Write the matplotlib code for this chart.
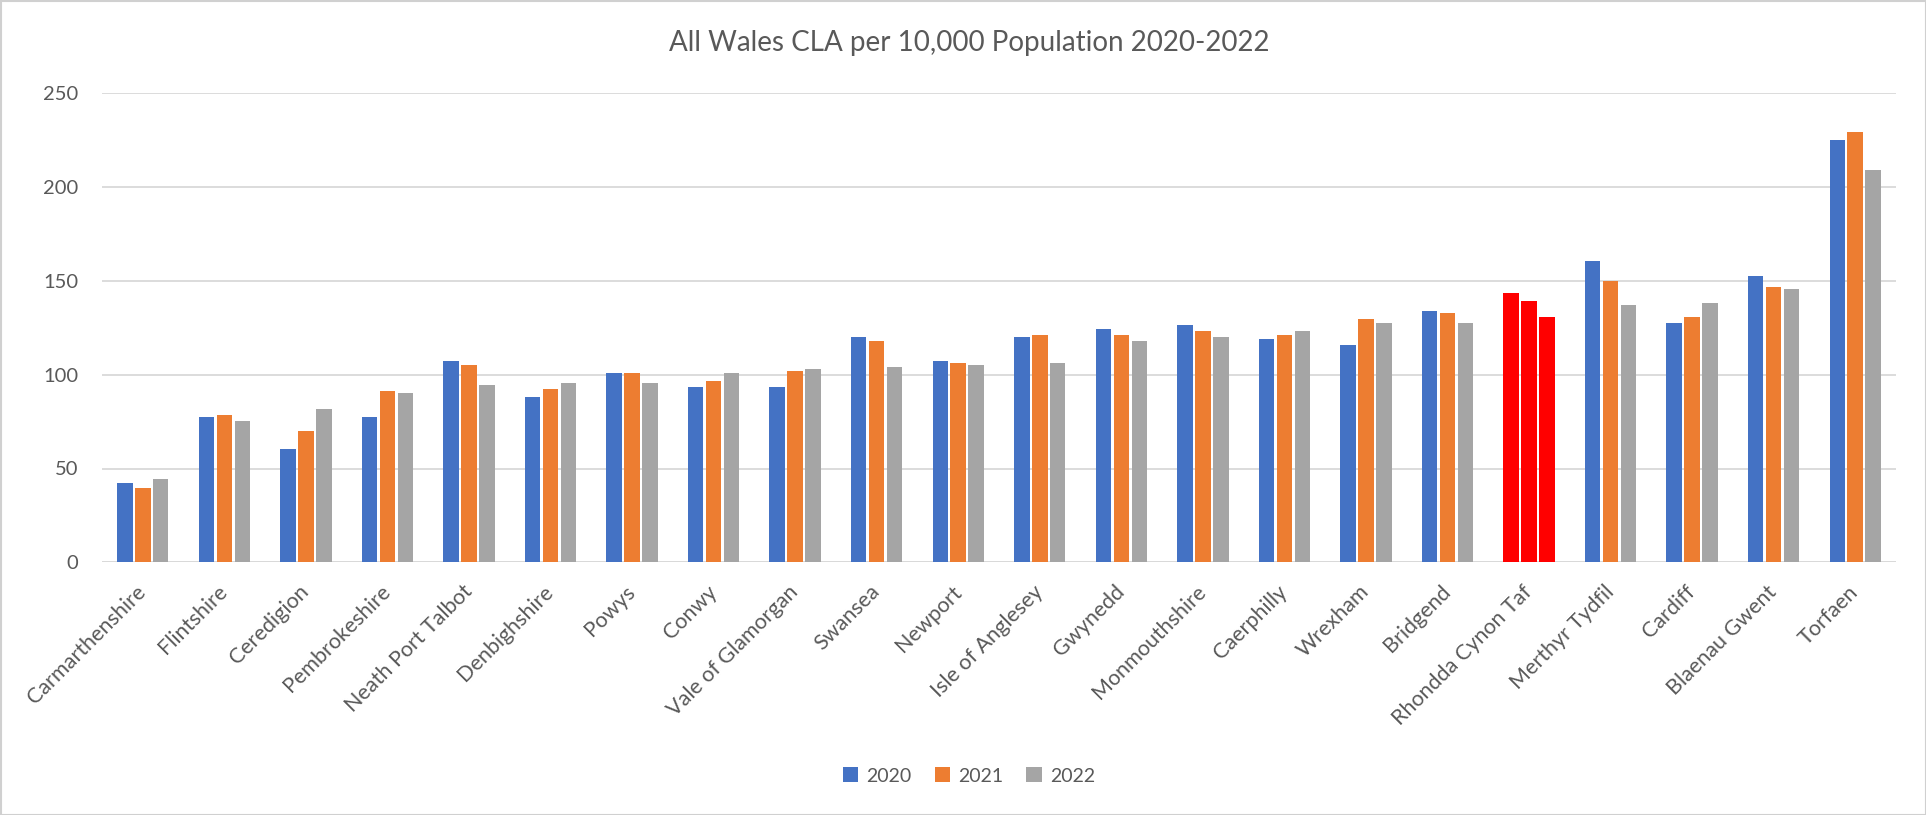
import matplotlib
matplotlib.use("Agg")
import matplotlib.pyplot as plt
import numpy as np
from matplotlib.patches import Patch, Rectangle

categories = ["Carmarthenshire", "Flintshire", "Ceredigion", "Pembrokeshire",
              "Neath Port Talbot", "Denbighshire", "Powys", "Conwy",
              "Vale of Glamorgan", "Swansea", "Newport", "Isle of Anglesey",
              "Gwynedd", "Monmouthshire", "Caerphilly", "Wrexham", "Bridgend",
              "Rhondda Cynon Taf", "Merthyr Tydfil", "Cardiff", "Blaenau Gwent",
              "Torfaen"]
v2020 = [42.5, 77.5, 60.6, 77.5, 107.1, 88.1, 100.7, 93.5, 93.5, 120.1, 107.3,
         120.1, 124.4, 126.5, 119.0, 115.8, 134.0, 143.6, 160.4, 127.6, 152.8, 225.1]
v2021 = [39.4, 78.5, 70.2, 91.3, 105.2, 92.4, 100.7, 96.7, 102.0, 118.0, 106.3,
         121.2, 121.2, 123.3, 121.2, 129.7, 132.9, 139.3, 149.8, 130.8, 146.6, 229.4]
v2022 = [44.6, 75.3, 81.7, 90.3, 94.5, 95.6, 95.6, 100.9, 103.1, 104.1, 105.2,
         106.3, 118.0, 120.1, 123.3, 127.6, 127.6, 130.8, 137.0, 138.1, 145.5, 209.1]
series_labels = ["2020", "2021", "2022"]
series_colors = ["#4472C4", "#ED7D31", "#A5A5A5"]
highlight = "Rhondda Cynon Taf"
highlight_color = "#FF0000"
yticks = [0, 50, 100, 150, 200, 250]
title = "All Wales CLA per 10,000 Population 2020-2022"

plt.rcParams['font.family'] = ['Lato', 'DejaVu Sans']
text_color = "#595959"

fig = plt.figure(figsize=(19.26, 8.15), dpi=100)
ax = fig.add_axes([102/1926, 1 - 562.3/815, (1896-102)/1926, (562.3-93.3)/815])

x = np.arange(len(categories))
step = 0.22
width = 0.19
for k, (vals, col) in enumerate(zip([v2020, v2021, v2022], series_colors)):
    cols = [highlight_color if c == highlight else col for c in categories]
    ax.bar(x + (k - 1) * step, vals, width=width, color=cols, zorder=3)

ax.set_xlim(-0.5, len(categories) - 0.5)
ax.set_ylim(0, 250)
ax.set_yticks(yticks)
ax.set_yticklabels([str(t) for t in yticks], fontsize=14.5, color=text_color)
ax.set_xticks(x)
ax.set_xticklabels(categories, rotation=45, ha='right', va='center',
                   rotation_mode='anchor', fontsize=15.5, color=text_color)
ax.tick_params(axis='y', length=0, pad=17)
ax.tick_params(axis='x', length=0, pad=19)
ax.grid(axis='y', color='#d9d9d9', linewidth=1.3, zorder=0)
for s in ax.spines.values():
    s.set_visible(False)
ax.axhline(0, color='#d9d9d9', linewidth=1.3, zorder=1)

fig.text(0.503, 1 - 43/815, title, ha='center', va='center', fontsize=20, color=text_color)

handles = [Patch(facecolor=c, edgecolor='none') for c in series_colors]
fig.legend(handles, series_labels, loc='center', bbox_to_anchor=(0.503, 1 - 776/815),
           ncol=3, frameon=False, fontsize=14, handlelength=0.8, handleheight=0.8,
           columnspacing=1.2, handletextpad=0.4, labelcolor=text_color)

fig.patches.append(Rectangle((0.5/1926, 0.5/815), 1 - 1/1926, 1 - 1/815, transform=fig.transFigure,
                             fill=False, edgecolor='#d0d0d0', linewidth=1.5))

fig.savefig("out.png", dpi=100, facecolor='white')
